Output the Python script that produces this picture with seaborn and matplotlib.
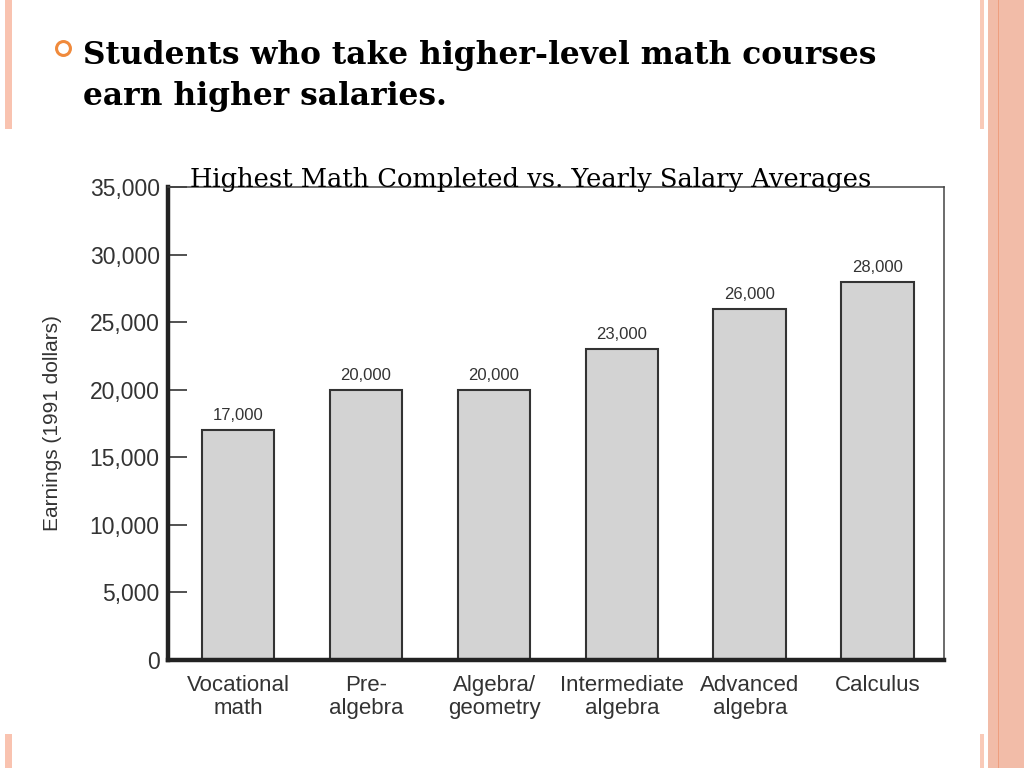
import matplotlib.pyplot as plt
import seaborn as sns
from matplotlib.lines import Line2D
from matplotlib.patches import Rectangle

# data
categories = ["Vocational\nmath", "Pre-\nalgebra", "Algebra/\ngeometry",
              "Intermediate\nalgebra", "Advanced\nalgebra", "Calculus"]
earnings = [17000, 20000, 20000, 23000, 26000, 28000]
y_ticks = [0, 5000, 10000, 15000, 20000, 25000, 30000, 35000]

heading_lines = ["Students who take higher-level math courses", "earn higher salaries."]
chart_title = "Highest Math Completed vs. Yearly Salary Averages"
y_label = "Earnings (1991 dollars)"

sns.set_theme(style="white")
plt.rcParams["font.family"] = ["Liberation Sans", "DejaVu Sans"]

fig = plt.figure(figsize=(10.24, 7.68), dpi=100)
fig.patch.set_facecolor("white")
ax = fig.add_axes([168 / 1024, 1 - 660 / 768, 776 / 1024, 473 / 768])

sns.barplot(x=categories, y=earnings, color="#D3D3D3", saturation=1,
            edgecolor="#333333", linewidth=1.5, width=0.57, ax=ax)

ax.set_xlim(-0.547, 5.516)
ax.set_ylim(0, 35000)
ax.set_yticks(y_ticks)
ax.set_yticklabels([f"{v:,}" for v in y_ticks])
ax.tick_params(axis="y", direction="in", length=14, width=1.2, color="#333333",
               labelsize=16.5, labelcolor="#333333", pad=6, left=True)
ax.tick_params(axis="x", length=0, labelsize=16, labelcolor="#333333", pad=11)
for lab in ax.get_xticklabels():
    lab.set_linespacing(1.12)
ax.set_ylabel(y_label, fontsize=15, color="#333333")
ax.yaxis.set_label_coords(-0.137, 0.5)

for side in ["left", "bottom"]:
    ax.spines[side].set_linewidth(3.2)
    ax.spines[side].set_color("#222222")
for side in ["top", "right"]:
    ax.spines[side].set_linewidth(1.1)
    ax.spines[side].set_color("#444444")

ax.bar_label(ax.containers[0], labels=[f"{v:,}" for v in earnings],
             padding=5, fontsize=12, color="#333333")

# chart title (serif, sits on the top frame)
fig.text(531 / 1024, 1 - 187 / 768, chart_title, ha="center", va="baseline",
         fontsize=18.5, family="DejaVu Serif", color="black")

# slide heading with bullet
for i, line in enumerate(heading_lines):
    fig.text(83 / 1024, 1 - (64 + 41 * i) / 768, line, ha="left", va="baseline",
             fontsize=22.5, fontweight="bold", family="DejaVu Serif", color="black")
fig.add_artist(Line2D([63 / 1024], [1 - 48 / 768], transform=fig.transFigure,
                      marker="o", markersize=10, markerfacecolor="none",
                      markeredgecolor="#F08A3C", markeredgewidth=2.2, linestyle="none"))

# slide decoration stripes
stripes = [
    (5, 0, 7, 129, "#F9C3B0"),
    (5, 734, 7, 34, "#F9C3B0"),
    (980, 0, 4, 129, "#F9CAB8"),
    (980, 734, 4, 34, "#F9CAB8"),
    (988, 0, 36, 768, "#F2BCA8"),
    (998, 0, 1.2, 768, "#EE9E7E"),
]
for x0, y0, w, h, c in stripes:
    fig.add_artist(Rectangle((x0 / 1024, 1 - (y0 + h) / 768), w / 1024, h / 768,
                             transform=fig.transFigure, facecolor=c,
                             edgecolor="none", zorder=0))

fig.savefig("out.png", dpi=100)
